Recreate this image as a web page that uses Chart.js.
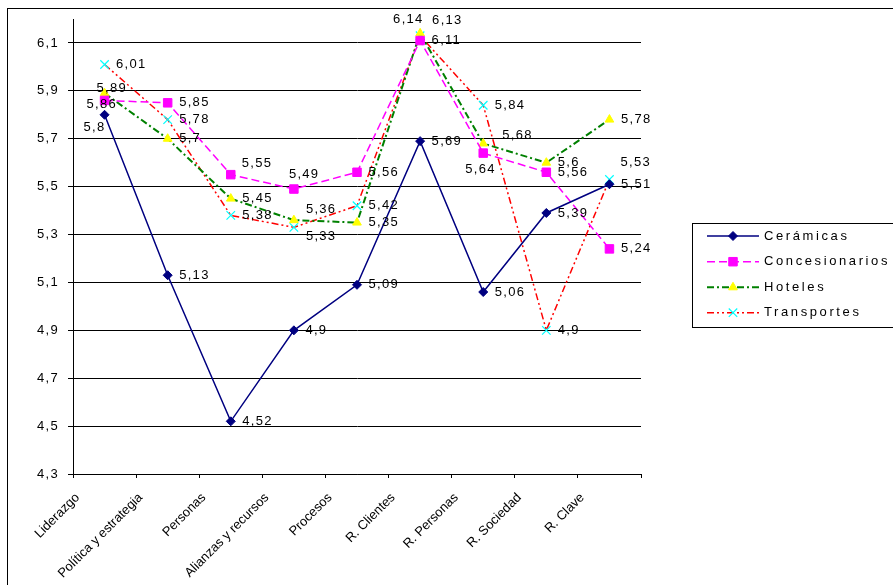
<!DOCTYPE html>
<html>
<head>
<meta charset="utf-8">
<script src="https://cdn.jsdelivr.net/npm/chart.js@4/dist/chart.umd.min.js"></script>
<style>
  html, body { margin: 0; padding: 0; background: #fff; }
  #wrap { width: 893px; height: 585px; position: relative; overflow: hidden; }
</style>
</head>
<body>
<div id="wrap"><canvas id="chart" width="893" height="585"></canvas></div>
<script>
// Criterios del modelo evaluados por sector
const categories = ['Liderazgo', 'Política y estrategia', 'Personas', 'Alianzas y recursos',
  'Procesos', 'R. Clientes', 'R. Personas', 'R. Sociedad', 'R. Clave'];

const ceramicas      = [5.8, 5.13, 4.52, 4.9, 5.09, 5.69, 5.06, 5.39, 5.51];
const concesionarios = [5.86, 5.85, 5.55, 5.49, 5.56, 6.11, 5.64, 5.56, 5.24];
const hoteles        = [5.89, 5.7, 5.45, 5.36, 5.35, 6.14, 5.68, 5.6, 5.78];
const transportes    = [6.01, 5.78, 5.38, 5.33, 5.42, 6.13, 5.84, 4.9, 5.53];

const yTicks = [4.3, 4.5, 4.7, 4.9, 5.1, 5.3, 5.5, 5.7, 5.9, 6.1];

// Desplazamiento de etiquetas (texto respecto al punto) donde se solapan
const labelNudges = {
  0: { 0: [-21, 12.5] },
  1: { 0: [-18, 3.8], 2: [11, -11], 3: [-5, -15], 6: [-18, 16] },
  2: { 0: [-8, -5], 3: [12, -11], 5: [-27, -14], 6: [19, -8] },
  3: { 3: [12, 9], 5: [12, -15], 8: [11, -17.5] }
};

const FONT = '"Liberation Sans", Arial, sans-serif';
const fmt = v => String(v).replace('.', ',');

Chart.defaults.font.family = FONT;
Chart.defaults.color = '#000';

const frame = {
  id: 'frame',
  beforeDraw(chart) {
    const ctx = chart.ctx;
    ctx.save();
    ctx.fillStyle = '#fff';
    ctx.fillRect(0, 0, chart.width, chart.height);
    ctx.strokeStyle = '#000';
    ctx.lineWidth = 1;
    ctx.strokeRect(7.5, 8.5, chart.width + 20, chart.height + 20);
    ctx.restore();
    ctx.letterSpacing = '0px';
  }
};

const valueLabels = {
  id: 'valueLabels',
  afterDatasetsDraw(chart) {
    const ctx = chart.ctx;
    ctx.save();
    ctx.letterSpacing = '1.3px';
    ctx.font = '13px ' + FONT;
    ctx.fillStyle = '#000';
    ctx.textAlign = 'left';
    ctx.textBaseline = 'middle';
    chart.data.datasets.forEach((ds, i) => {
      const meta = chart.getDatasetMeta(i);
      meta.data.forEach((pt, j) => {
        const n = (labelNudges[i] && labelNudges[i][j]) || [11.5, 0];
        ctx.fillText(fmt(ds.data[j]), pt.x + n[0], pt.y + n[1]);
      });
    });
    ctx.restore();
    // the value axis labels are drawn after the datasets with the same spacing
    ctx.letterSpacing = '1.3px';
  }
};

const lineLegend = {
  id: 'lineLegend',
  afterDraw(chart) {
    const ctx = chart.ctx;
    const box = { x: 692.5, y: 223.5, w: 260, h: 104 };
    const rows = [236, 261.7, 287.3, 312.7];
    ctx.save();
    ctx.letterSpacing = '0px';
    ctx.strokeStyle = '#000';
    ctx.lineWidth = 1;
    ctx.strokeRect(box.x, box.y, box.w, box.h);
    chart.data.datasets.forEach((ds, i) => {
      const y = rows[i];
      ctx.save();
      ctx.strokeStyle = ds.borderColor;
      ctx.lineWidth = ds.borderWidth;
      ctx.setLineDash(ds.borderDash || []);
      ctx.beginPath();
      ctx.moveTo(707, y);
      ctx.lineTo(759, y);
      ctx.stroke();
      ctx.restore();
      ctx.save();
      ctx.fillStyle = ds.pointBackgroundColor;
      ctx.strokeStyle = ds.pointBorderColor;
      ctx.lineWidth = ds.pointBorderWidth;
      Chart.helpers.drawPoint(ctx, {
        pointStyle: ds.pointStyle, radius: ds.pointRadius, rotation: 0,
        borderWidth: ds.pointBorderWidth
      }, 733, y);
      ctx.restore();
      ctx.save();
      ctx.letterSpacing = '2.6px';
      ctx.font = '13px ' + FONT;
      ctx.fillStyle = '#000';
      ctx.textAlign = 'left';
      ctx.textBaseline = 'middle';
      ctx.fillText(ds.label, 764, y);
      ctx.restore();
    });
    ctx.restore();
  }
};

new Chart(document.getElementById('chart'), {
  type: 'line',
  data: {
    labels: categories,
    datasets: [
      {
        label: 'Cerámicas', data: ceramicas,
        borderColor: '#000080', borderWidth: 1.5, borderDash: [],
        pointStyle: 'rectRot', pointRadius: 4.5, pointBorderWidth: 1,
        pointBackgroundColor: '#000080', pointBorderColor: '#000080'
      },
      {
        label: 'Concesionarios', data: concesionarios,
        borderColor: '#FF00FF', borderWidth: 1.5, borderDash: [8, 4],
        pointStyle: 'rect', pointRadius: 6, pointBorderWidth: 1,
        pointBackgroundColor: '#FF00FF', pointBorderColor: '#FF00FF'
      },
      {
        label: 'Hoteles', data: hoteles,
        borderColor: '#008000', borderWidth: 2, borderDash: [7, 3, 2, 3],
        pointStyle: 'triangle', pointRadius: 5, pointBorderWidth: 1,
        pointBackgroundColor: '#FFFF00', pointBorderColor: '#FFFF00'
      },
      {
        label: 'Transportes', data: transportes,
        borderColor: '#FF0000', borderWidth: 1.5, borderDash: [7, 3, 2, 3, 2, 3],
        pointStyle: 'crossRot', pointRadius: 6, pointBorderWidth: 1.2,
        pointBackgroundColor: '#00FFFF', pointBorderColor: '#00FFFF'
      }
    ]
  },
  options: {
    responsive: false,
    animation: false,
    devicePixelRatio: 1,
    layout: { padding: { top: 19, right: 252, left: 0, bottom: 0 } },
    elements: { line: { tension: 0, fill: false } },
    plugins: { legend: { display: false }, tooltip: { enabled: false } },
    scales: {
      x: {
        type: 'category',
        offset: true,
        grid: { offset: true, drawOnChartArea: false, drawTicks: true, tickLength: 4, color: '#000' },
        border: { color: '#000', width: 1 },
        ticks: {
          autoSkip: false, minRotation: 45, maxRotation: 45,
          labelOffset: -27, padding: 12, color: '#000',
          font: { family: FONT, size: 13 }
        },
        afterFit(s) { s.height = 111; }
      },
      y: {
        min: 4.3, max: 6.2,
        afterBuildTicks(s) { s.ticks = yTicks.map(v => ({ value: v })); },
        grid: { color: '#000', lineWidth: 1, tickLength: 5, drawTicks: true },
        border: { color: '#000', width: 1 },
        ticks: {
          padding: 9, color: '#000', z: 1,
          font: { family: FONT, size: 13 },
          callback: v => fmt(v)
        },
        afterFit(s) { s.width = 73; }
      }
    }
  },
  plugins: [frame, valueLabels, lineLegend]
});
</script>
</body>
</html>
